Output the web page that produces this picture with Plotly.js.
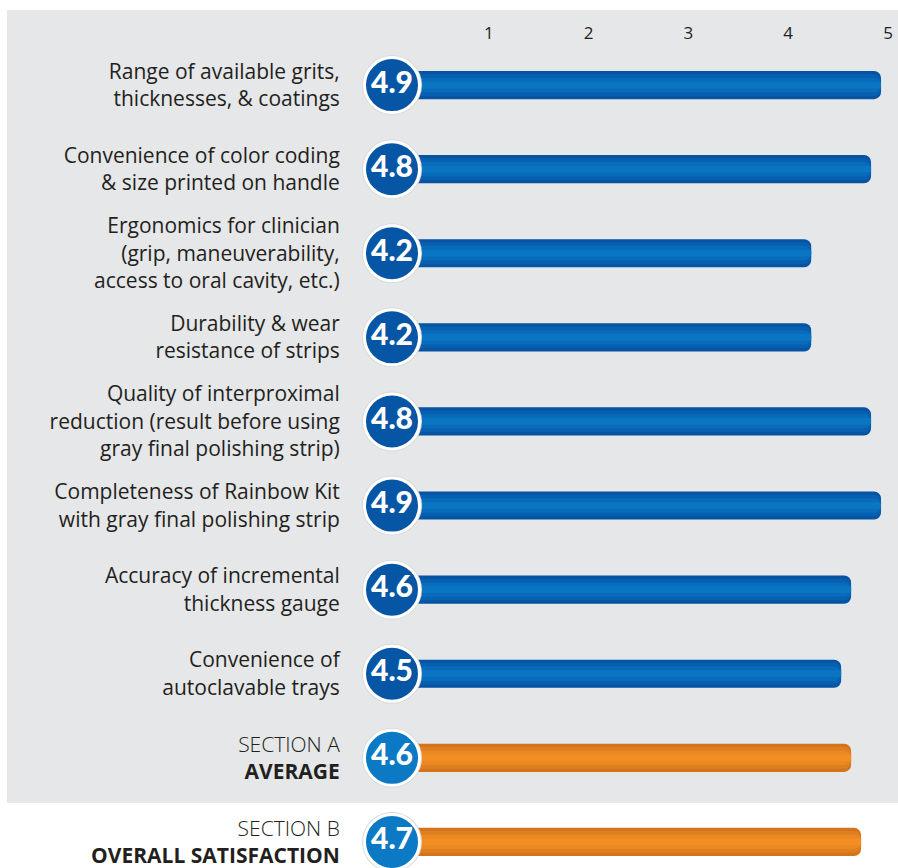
<!DOCTYPE html>
<html>
<head>
<meta charset="utf-8">
<script src="https://cdn.plot.ly/plotly-3.0.1.min.js"></script>
<style>html,body{margin:0;padding:0;background:#fff;}#chart{width:898px;height:868px;}</style>
</head>
<body>
<div id="chart"></div>
<script>
const categories = [
  "Range of available grits,<br>thicknesses, & coatings",
  "Convenience of color coding<br>& size printed on handle",
  "Ergonomics for clinician<br>(grip, maneuverability,<br>access to oral cavity, etc.)",
  "Durability & wear<br>resistance of strips",
  "Quality of interproximal<br>reduction (result before using<br>gray final polishing strip)",
  "Completeness of Rainbow Kit<br>with gray final polishing strip",
  "Accuracy of incremental<br>thickness gauge",
  "Convenience of<br>autoclavable trays",
  "<span style=\"font-weight:300\">SECTION A</span><br><b>AVERAGE</b>",
  "<span style=\"font-weight:300\">SECTION B</span><br><b>OVERALL SATISFACTION</b>"
];
const values = [4.9, 4.8, 4.2, 4.2, 4.8, 4.9, 4.6, 4.5, 4.6, 4.7];
const barKind = ["item","item","item","item","item","item","item","item","summary","summary"];
const xTicks = [1, 2, 3, 4, 5];

const rows = values.map((v, i) => i);
const blueLayers = ["#0553a2", "#075fb0", "#096bbb", "#0a76c3"];
const orangeLayers = ["#d2741b", "#df7f1f", "#ea8822", "#f38e24"];
const layerWidths = [0.335, 0.26, 0.17, 0.08];
const circleColor = k => k === "item" ? "#0756a5" : "#0b79c3";

const traces = [];
layerWidths.forEach((w, li) => {
  traces.push({
    type: "bar", orientation: "h",
    x: values, y: rows, base: 0,
    width: values.map(() => w),
    marker: {
      color: barKind.map(k => k === "item" ? blueLayers[li] : orangeLayers[li]),
      cornerradius: Math.min(7, w * 84 / 2)
    },
    hoverinfo: "skip", showlegend: false
  });
});
// outer ring
traces.push({
  type: "scatter", mode: "markers",
  x: values.map(() => 0), y: rows,
  marker: {size: 60, color: "#d9dadb", line: {width: 0}},
  cliponaxis: false, hoverinfo: "skip", showlegend: false
});
traces.push({
  type: "scatter", mode: "markers+text",
  x: values.map(() => 0), y: rows,
  text: values.map(v => v.toFixed(1)),
  textposition: "middle center",
  textfont: {family: "Lato", size: 30, color: "#ffffff", weight: 900},
  marker: {size: 55, color: barKind.map(circleColor), line: {width: 3, color: "#ffffff"}},
  cliponaxis: false, hoverinfo: "skip", showlegend: false
});

const layout = {
  width: 898, height: 868,
  margin: {l: 392, r: 0, t: 43, b: 0},
  paper_bgcolor: "#ffffff",
  plot_bgcolor: "rgba(0,0,0,0)",
  barmode: "overlay",
  showlegend: false,
  font: {family: "Open Sans", color: "#231f20"},
  xaxis: {
    side: "top", range: [0, 5.07],
    tickvals: xTicks, ticktext: xTicks.map(String),
    showgrid: false, zeroline: false, showline: false,
    ticks: "", ticklabelshift: -3,
    tickfont: {size: 17, color: "#231f20"}
  },
  yaxis: {
    range: [9.31, -0.5],
    tickvals: rows, ticktext: categories,
    showgrid: false, zeroline: false, showline: false,
    ticks: "outside", ticklen: 47, tickcolor: "rgba(0,0,0,0)",
    ticklabeloverflow: "allow",
    tickfont: {family: "Open Sans", size: 21, color: "#231f20"}
  },
  shapes: [{
    type: "rect", xref: "paper", yref: "paper",
    x0: -0.761, x1: 1.05, y0: 0.0788, y1: 1.04,
    fillcolor: "#e6e7e8", line: {width: 0}, layer: "below"
  }]
};

Plotly.newPlot("chart", traces, layout, {displayModeBar: false, staticPlot: true});
</script>
</body>
</html>
